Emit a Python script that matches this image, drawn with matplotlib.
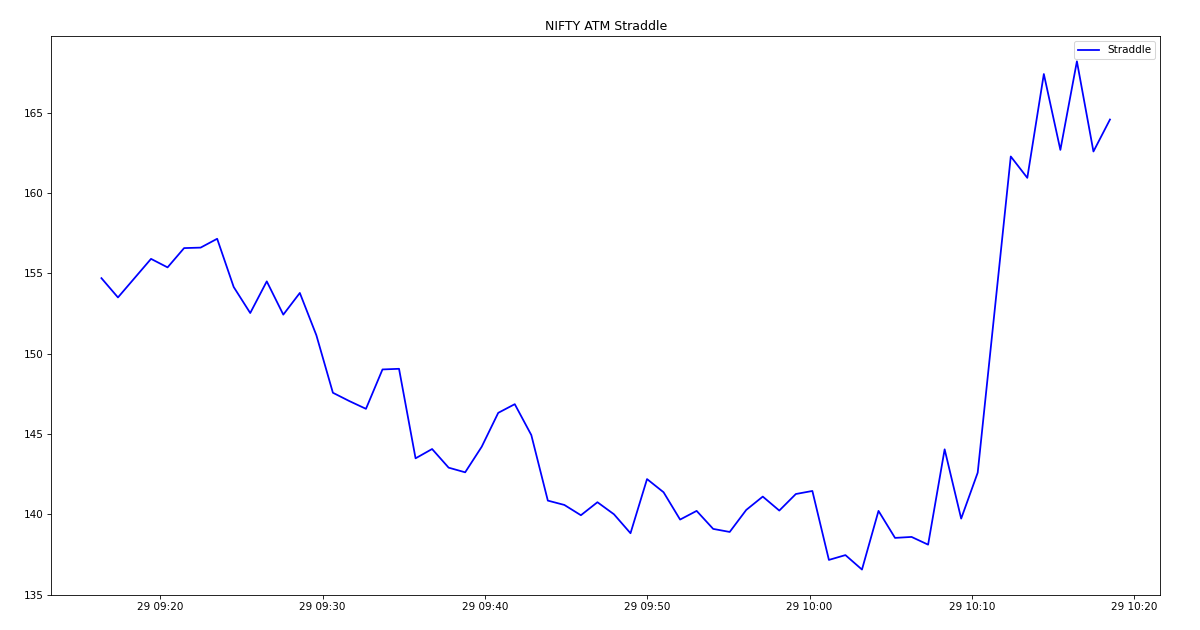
import matplotlib
matplotlib.use("Agg")
import matplotlib.pyplot as plt
import matplotlib.dates as mdates
import pandas as pd

start_time = "2024-08-29 09:16:23"
step = "61100ms"
straddle = [
    154.7, 153.5, 154.7, 155.9, 155.37, 156.57, 156.6, 157.15, 154.15, 152.53,
    154.5, 152.43, 153.78, 151.15, 147.57, 147.05, 146.57, 149.02, 149.06, 143.49,
    144.07, 142.91, 142.62, 144.21, 146.32, 146.86, 144.94, 140.86, 140.59, 139.95,
    140.76, 140.01, 138.83, 142.2, 141.38, 139.68, 140.22, 139.1, 138.91, 140.28,
    141.11, 140.24, 141.27, 141.46, 137.17, 137.47, 136.57, 140.22, 138.54, 138.6,
    138.12, 144.05, 139.74, 142.6, 152.43, 162.27, 160.94, 167.4, 162.68, 168.19,
    162.58, 164.57,
]
times = pd.date_range(start=start_time, periods=len(straddle), freq=step)

fig = plt.figure(figsize=(16, 8.4), dpi=75)
ax = fig.add_axes([0.0425, 0.0556, 0.9245, 0.8874])
ax.plot(times, straddle, color="blue", label="Straddle", linewidth=1.7)
ax.set_title("NIFTY ATM Straddle")
ax.legend(loc="upper right")
ax.xaxis.set_major_locator(mdates.MinuteLocator(byminute=[0, 10, 20, 30, 40, 50]))
ax.xaxis.set_major_formatter(mdates.DateFormatter("%d %H:%M"))
fig.savefig("out.png", dpi=75)
